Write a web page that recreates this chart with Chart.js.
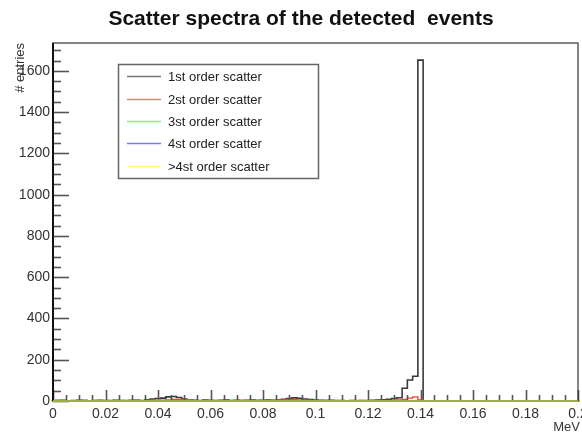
<!DOCTYPE html>
<html>
<head>
<meta charset="utf-8">
<script src="https://cdn.jsdelivr.net/npm/chart.js@4.4.1/dist/chart.umd.min.js"></script>
<style>
  html, body { margin: 0; padding: 0; background: #fff; }
  canvas { display: block; }
</style>
</head>
<body>
<canvas id="scatterChart" width="582" height="433"></canvas>
<script>
// Histogram binning: bin i is centred on i * binWidth
const binWidth = 0.002;

// Counts per bin (mostly noise near zero)
const firstOrder = [
    0, 2, 3, 1, 2, 3, 2, 1, 2, 3,
    2, 1, 3, 2, 2, 3, 3, 2, 6, 10,
    12, 14, 20, 22, 17, 9, 5, 3, 2, 4,
    3, 2, 3, 4, 2, 3, 2, 3, 4, 2,
    3, 4, 3, 5, 8, 12, 15, 13, 10, 7,
    4, 3, 2, 3, 2, 2, 1, 2, 1, 2,
    2, 3, 4, 6, 8, 12, 16, 62, 102, 120,
    1652, 0, 0, 0, 0, 0, 0, 0, 0, 0,
    0, 0, 0, 0, 0, 0, 0, 0, 0, 0,
    0, 0, 0, 0, 0, 0, 0, 0, 0, 0,
    0
];
const secondOrder = [
    0, 1, 2, 0, 1, 3, 2, 1, 0, 2,
    1, 2, 1, 0, 2, 1, 0, 1, 2, 3,
    2, 3, 5, 7, 8, 6, 4, 2, 1, 2,
    1, 0, 2, 1, 2, 1, 3, 2, 1, 2,
    1, 2, 3, 4, 6, 8, 7, 5, 4, 2,
    1, 2, 1, 0, 0, 0, 0, 2, 3, 2,
    2, 1, 2, 3, 3, 3, 5, 8, 14, 20,
    5, 0, 0, 0, 0, 0, 0, 0, 0, 0,
    0, 0, 0, 0, 0, 0, 0, 0, 0, 0,
    0, 0, 0, 0, 0, 0, 0, 0, 0, 0,
    0
];
const thirdOrder = [
    0, 2, 3, 1, 2, 3, 2, 2, 3, 2,
    1, 2, 3, 3, 2, 1, 2, 2, 3, 2,
    1, 2, 3, 2, 1, 2, 3, 2, 1, 2,
    3, 2, 1, 2, 3, 2, 2, 1, 2, 3,
    2, 1, 3, 2, 2, 3, 2, 1, 2, 3,
    2, 2, 1, 2, 1, 0, 1, 2, 1, 2,
    1, 2, 1, 1, 2, 1, 1, 0, 0, 0,
    0, 0, 0, 0, 0, 0, 0, 0, 0, 0,
    0, 0, 0, 0, 0, 0, 0, 0, 0, 0,
    0, 0, 0, 0, 0, 0, 0, 0, 0, 0,
    0
];
const fourthOrder = [
    0, 3, 2, 1, 2, 1, 3, 2, 1, 1,
    2, 3, 1, 2, 1, 2, 3, 2, 1, 2,
    1, 3, 2, 1, 2, 1, 2, 3, 1, 2,
    1, 2, 1, 3, 2, 1, 2, 1, 2, 3,
    1, 2, 2, 1, 3, 2, 1, 2, 3, 1,
    2, 1, 3, 2, 1, 0, 0, 0, 0, 0,
    0, 0, 0, 0, 0, 0, 0, 0, 0, 0,
    0, 0, 0, 0, 0, 0, 0, 0, 0, 0,
    0, 0, 0, 0, 0, 0, 0, 0, 0, 0,
    0, 0, 0, 0, 0, 0, 0, 0, 0, 0,
    0
];
const higherOrder = [
    0, 1, 0, 1, 2, 1, 0, 1, 2, 1,
    0, 1, 1, 0, 1, 2, 1, 0, 1, 1,
    0, 1, 2, 1, 0, 1, 1, 2, 0, 1,
    1, 0, 1, 2, 1, 0, 1, 1, 0, 1,
    2, 1, 0, 1, 1, 0, 1, 2, 1, 0,
    1, 0, 1, 0, 1, 0, 0, 0, 0, 0,
    0, 0, 0, 0, 0, 0, 0, 0, 0, 0,
    0, 0, 0, 0, 0, 0, 0, 0, 0, 0,
    0, 0, 0, 0, 0, 0, 0, 0, 0, 0,
    0, 0, 0, 0, 0, 0, 0, 0, 0, 0,
    0
];

const seriesLabels = ['1st order scatter', '2st order scatter', '3st order scatter', '4st order scatter', '>4st order scatter'];
const seriesColors = ['#3a3a3a', '#ff3b3b', '#3ee23e', '#3b3bff', '#ffff33'];
const legendColors = ['#777777', '#ff7777', '#77ff77', '#7777ff', '#ffff77'];

// Turn bin counts into step points at the lower bin edges (plus a closing edge)
function toSteps(counts) {
    const pts = counts.map((c, i) => ({ x: (i - 0.5) * binWidth, y: c }));
    pts.push({ x: (counts.length - 0.5) * binWidth, y: 0 });
    return pts;
}

const allSeries = [firstOrder, secondOrder, thirdOrder, fourthOrder, higherOrder];
const datasets = allSeries.map((counts, k) => ({
    label: seriesLabels[k],
    data: toSteps(counts),
    stepped: 'before',
    borderColor: seriesColors[k],
    borderWidth: k === 0 ? 1.6 : 1.4,
    pointRadius: 0,
    fill: false,
    order: 5 - k,
    clip: 2
}));

const fontFamily = '"Liberation Sans", Arial, Helvetica, sans-serif';

// Draws ROOT-style frame, inward ticks, titles and legend box
const rootFramePlugin = {
    id: 'rootFrame',
    afterDatasetsDraw(chart) {
        const { ctx, chartArea: a, scales: { x, y } } = chart;
        ctx.save();

        // inward ticks on the y axis
        ctx.strokeStyle = '#555';
        ctx.lineWidth = 1.6;
        for (let v = 0; v <= y.max + 1e-6; v += 50) {
            const py = Math.round(y.getPixelForValue(v)) + 0.5;
            const len = (v % 200 === 0) ? 16 : 8;
            ctx.beginPath();
            ctx.moveTo(a.left, py);
            ctx.lineTo(a.left + len, py);
            ctx.stroke();
        }
        // inward ticks on the x axis
        for (let i = 0; i <= 40; i++) {
            const px = Math.round(x.getPixelForValue(i * 0.005)) + 0.5;
            const len = (i % 4 === 0) ? 11 : 6;
            ctx.beginPath();
            ctx.moveTo(px, a.bottom);
            ctx.lineTo(px, a.bottom - len);
            ctx.stroke();
        }

        // frame
        ctx.strokeStyle = '#333';
        ctx.lineWidth = 1.2;
        ctx.strokeRect(a.left, a.top, a.right - a.left, a.bottom - a.top);
        ctx.strokeStyle = '#111';
        ctx.lineWidth = 2;
        ctx.beginPath();
        ctx.moveTo(a.left, a.top);
        ctx.lineTo(a.left, a.bottom);
        ctx.stroke();

        // zero line over the x axis
        ctx.strokeStyle = '#9ab23a';
        ctx.lineWidth = 2;
        ctx.beginPath();
        ctx.moveTo(a.left, a.bottom);
        ctx.lineTo(a.right, a.bottom);
        ctx.stroke();

        // title
        ctx.fillStyle = '#111';
        ctx.font = 'bold 21px ' + fontFamily;
        ctx.textAlign = 'center';
        ctx.textBaseline = 'middle';
        ctx.fillText('Scatter spectra of the detected  events', 301, 19);

        // axis titles
        ctx.font = '13px ' + fontFamily;
        ctx.fillStyle = '#333';
        ctx.textAlign = 'right';
        ctx.fillText('MeV', 580, 427);
        ctx.save();
        ctx.translate(20, a.top);
        ctx.rotate(-Math.PI / 2);
        ctx.textAlign = 'right';
        ctx.fillText('# entries', 0, 0);
        ctx.restore();

        // legend
        ctx.fillStyle = '#fff';
        ctx.fillRect(118, 64, 200, 114);
        ctx.strokeStyle = '#666';
        ctx.lineWidth = 1.5;
        ctx.strokeRect(118.5, 64.5, 200, 114);
        const rows = [76, 99, 121, 143, 166];
        ctx.font = '13px ' + fontFamily;
        ctx.textAlign = 'left';
        rows.forEach((ry, k) => {
            ctx.strokeStyle = legendColors[k];
            ctx.lineWidth = 1.6;
            ctx.beginPath();
            ctx.moveTo(127, ry + 0.5);
            ctx.lineTo(161, ry + 0.5);
            ctx.stroke();
            ctx.fillStyle = '#222';
            ctx.fillText(seriesLabels[k], 168, ry + 1);
        });

        ctx.restore();
    }
};

new Chart(document.getElementById('scatterChart'), {
    type: 'line',
    data: { datasets },
    options: {
        responsive: false,
        animation: false,
        layout: { padding: { top: 43, right: 4, left: 0, bottom: 0 } },
        plugins: {
            legend: { display: false },
            title: { display: false },
            tooltip: { enabled: false }
        },
        scales: {
            x: {
                type: 'linear',
                min: 0,
                max: 0.2,
                grid: { display: false, drawTicks: false },
                border: { display: false },
                ticks: {
                    stepSize: 0.02,
                    autoSkip: false,
                    maxRotation: 0,
                    padding: 5,
                    color: '#333',
                    font: { family: fontFamily, size: 14 },
                    callback: v => String(+v.toFixed(2))
                },
                afterFit(scale) {
                    scale.height = 32;
                    scale.paddingLeft = 0;
                    scale.paddingRight = 0;
                }
            },
            y: {
                min: 0,
                max: 1735,
                grid: { display: false, drawTicks: false },
                border: { display: false },
                ticks: {
                    stepSize: 200,
                    padding: 3,
                    color: '#333',
                    font: { family: fontFamily, size: 14 },
                    callback: v => (v % 200 === 0 ? String(v) : '')
                },
                afterFit(scale) {
                    scale.width = 53;
                    scale.paddingTop = 0;
                    scale.paddingBottom = 0;
                }
            }
        }
    },
    plugins: [rootFramePlugin]
});
</script>
</body>
</html>
